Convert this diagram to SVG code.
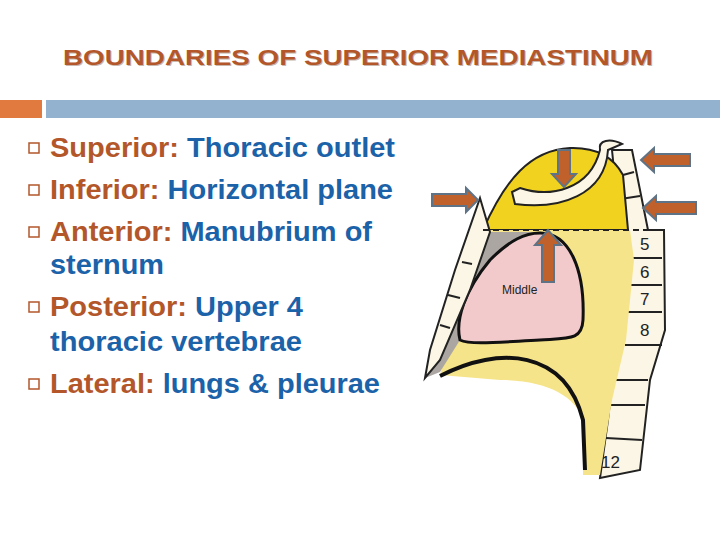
<svg xmlns="http://www.w3.org/2000/svg" width="720" height="540" viewBox="0 0 720 540">
<style>
.lab{fill:#B3572B}
.txt{fill:#1B62A8}
.body{font-family:"Liberation Sans",Arial,sans-serif;font-size:27px;font-weight:bold}
.bx{fill:#fff;stroke:#B3572B;stroke-width:1.5}
.arr{fill:#C0602A;stroke:#5F7386;stroke-width:2}
.bone{fill:#FBF6E6;stroke:#222;stroke-width:2}
.num{font-family:"Liberation Sans",Arial,sans-serif;font-size:17px;fill:#222}
</style>
<rect width="720" height="540" fill="#fff"/>
<text x="359" y="66" text-anchor="middle" font-family="Liberation Sans,Arial,sans-serif" font-size="22" font-weight="bold" fill="#C9B8AE" textLength="590" lengthAdjust="spacingAndGlyphs">BOUNDARIES OF SUPERIOR MEDIASTINUM</text>
<text x="358" y="65" text-anchor="middle" font-family="Liberation Sans,Arial,sans-serif" font-size="22" font-weight="bold" fill="#B3572B" textLength="590" lengthAdjust="spacingAndGlyphs">BOUNDARIES OF SUPERIOR MEDIASTINUM</text>
<rect x="0" y="100" width="42" height="18" fill="#E07A3F"/>
<rect x="46" y="100" width="674" height="18" fill="#92B2D0"/>
<g id="bullets" class="body">
<rect class="bx" x="29" y="143" width="10" height="10"/>
<text x="50" y="157" textLength="345" lengthAdjust="spacingAndGlyphs"><tspan class="lab">Superior:</tspan><tspan class="txt"> Thoracic outlet</tspan></text>
<rect class="bx" x="29" y="185" width="10" height="10"/>
<text x="50" y="199" textLength="343" lengthAdjust="spacingAndGlyphs"><tspan class="lab">Inferior:</tspan><tspan class="txt"> Horizontal plane</tspan></text>
<rect class="bx" x="29" y="227" width="10" height="10"/>
<text x="50" y="241" textLength="322" lengthAdjust="spacingAndGlyphs"><tspan class="lab">Anterior:</tspan><tspan class="txt"> Manubrium of</tspan></text>
<text x="50" y="274" class="txt" textLength="114" lengthAdjust="spacingAndGlyphs">sternum</text>
<rect class="bx" x="29" y="302" width="10" height="10"/>
<text x="50" y="316" textLength="253" lengthAdjust="spacingAndGlyphs"><tspan class="lab">Posterior:</tspan><tspan class="txt"> Upper 4</tspan></text>
<text x="50" y="351" class="txt" textLength="252" lengthAdjust="spacingAndGlyphs">thoracic vertebrae</text>
<rect class="bx" x="29" y="379" width="10" height="10"/>
<text x="50" y="393" textLength="330" lengthAdjust="spacingAndGlyphs"><tspan class="lab">Lateral:</tspan><tspan class="txt"> lungs &amp; pleurae</tspan></text>
</g>
<g id="figure">
<path class="bone" d="M612,150 L632,150 L648,230 L664,230 L665,330 L650,380 L640,470 L600,478 L608,420 L618,330 L620,230 Z"/>
<g stroke="#222" stroke-width="2">
<line x1="612" y1="178" x2="634" y2="172"/><line x1="614" y1="200" x2="640" y2="196"/>
<line x1="625" y1="258" x2="662" y2="258"/><line x1="625" y1="285" x2="662" y2="285"/>
<line x1="625" y1="312" x2="662" y2="312"/><line x1="625" y1="345" x2="662" y2="345"/>
<line x1="612" y1="380" x2="648" y2="380"/><line x1="610" y1="405" x2="645" y2="405"/>
<line x1="606" y1="438" x2="642" y2="440"/>
</g>
<text class="num" x="640" y="250">5</text><text class="num" x="640" y="278">6</text>
<text class="num" x="640" y="305">7</text><text class="num" x="640" y="336">8</text>
<text class="num" x="601" y="468" font-size="14">12</text>
<path d="M483,230 C505,180 530,150 570,148 C600,147 615,160 623,175 L628,230 Z" fill="#F1D21E" stroke="#222" stroke-width="2"/>
<path d="M483,230 L630,230 L634,260 L626,340 L612,400 L600,475 L583,475 L583,420 C575,395 545,380 500,380 L440,375 Z" fill="#F6E48A"/>
<path d="M490,232 L540,232 L460,340 L440,372 L425,378 Z" fill="#ABA6A2"/>
<path d="M540,233 C570,233 585,270 583,320 C582,340 570,338 540,340 C500,342 470,345 460,340 C455,320 465,290 490,260 C510,240 525,233 540,233 Z" fill="#F2CACC" stroke="#111" stroke-width="3"/>
<text x="502" y="294" font-family="Liberation Sans,Arial,sans-serif" font-size="12" fill="#222">Middle</text>
<path d="M440,376 C500,345 565,350 583,420 L585,470" fill="none" stroke="#111" stroke-width="4"/>
<path class="bone" d="M480,198 L490,232 L470,290 L440,360 L425,378 L430,350 L455,270 Z"/>
<g stroke="#222" stroke-width="2"><line x1="462" y1="262" x2="472" y2="264"/><line x1="448" y1="295" x2="460" y2="298"/><line x1="440" y1="325" x2="450" y2="328"/></g>
<path class="bone" d="M512,192 L520,188 C550,198 590,190 600,150 C598,140 610,138 622,144 L608,150 C605,195 560,210 515,204 Z"/>
<line x1="483" y1="230" x2="665" y2="230" stroke="#222" stroke-width="2" stroke-dasharray="6,4"/>
</g>
<g id="arrows">
<path class="arr" d="M432,194 L466,194 L466,188 L478,200 L466,212 L466,206 L432,206 Z"/>
<path class="arr" d="M558,150 L570,150 L570,174 L576,174 L564,187 L552,174 L558,174 Z"/>
<path class="arr" d="M690,154 L654,154 L654,148 L641,160 L654,172 L654,166 L690,166 Z"/>
<path class="arr" d="M696,202 L656,202 L656,196 L643,208 L656,220 L656,214 L696,214 Z"/>
<path class="arr" d="M542,282 L554,282 L554,245 L561,245 L548,230 L535,245 L542,245 Z"/>
</g>
</svg>
